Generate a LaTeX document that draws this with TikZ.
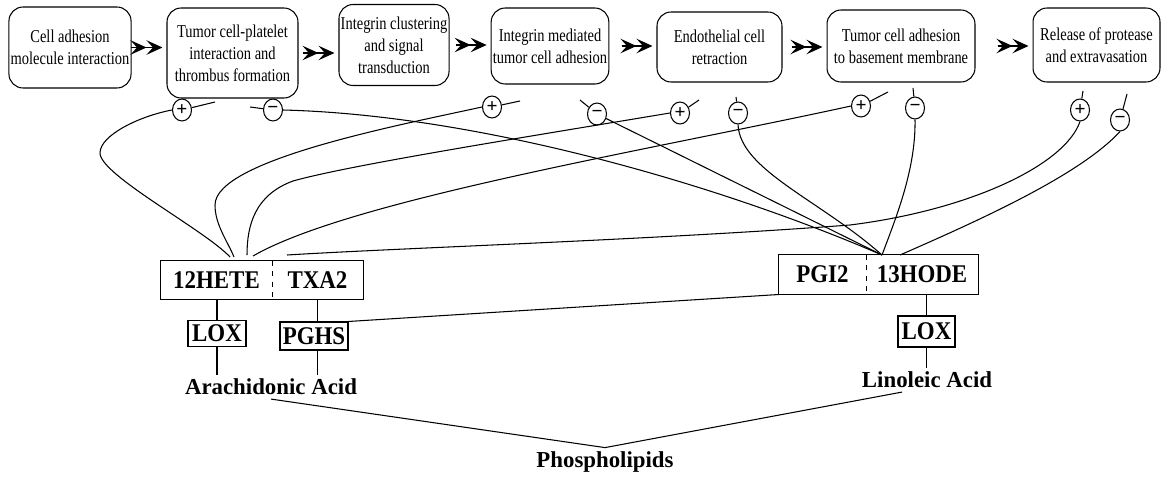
\documentclass[tikz,border=0pt]{standalone}
\usepackage{fontspec}
\setmainfont{Liberation Serif}
\newfontfamily\condfont[FakeStretch=0.8]{Liberation Serif}
\newfontfamily\labfont[FakeStretch=0.9]{Liberation Serif}
\usetikzlibrary{arrows.meta,shapes.geometric}

\tikzset{
  stage/.style={draw, rounded corners=8pt, align=center, inner sep=1pt,
    font=\condfont\fontsize{10.3}{12.5}\selectfont},
  sign/.style={draw, ellipse, minimum width=0.38cm, minimum height=0.44cm,
    inner sep=0pt, font=\bfseries\fontsize{11}{11}\selectfont},
  lab/.style={inner sep=0pt, font=\labfont\bfseries\fontsize{14.5}{16}\selectfont},
  enz/.style={draw, inner sep=1pt, font=\labfont\bfseries\fontsize{14.5}{16}\selectfont},
  acid/.style={inner sep=2pt, font=\bfseries\fontsize{13}{15}\selectfont},
  dbl/.style={-{Stealth[length=3.2mm,width=2.9mm,inset=1.3mm]Stealth[length=3.2mm,width=2.9mm,inset=1.3mm]}},
}

\begin{document}
\begin{tikzpicture}[x=0.02cm, y=-0.02cm, semithick]
    \useasboundingbox (0,0) rectangle (1162,483);
    % steps of extravasation
    \node[stage, minimum width=2.44cm, minimum height=1.62cm] (b1) at (70,47.5) {Cell adhesion\\molecule interaction};
    \node[stage, minimum width=2.62cm, minimum height=1.80cm] (b2) at (232.5,53) {Tumor cell-platelet\\interaction and\\thrombus formation};
    \node[stage, minimum width=2.16cm, minimum height=1.62cm] (b3) at (394,45) {Integrin clustering\\and signal\\transduction};
    \node[stage, minimum width=2.30cm, minimum height=1.52cm] (b4) at (550,46) {Integrin mediated\\tumor cell adhesion};
    \node[stage, minimum width=2.50cm, minimum height=1.40cm] (b5) at (719.5,47) {Endothelial cell\\retraction};
    \node[stage, minimum width=2.96cm, minimum height=1.44cm] (b6) at (901,46) {Tumor cell adhesion\\to basement membrane};
    \node[stage, minimum width=2.54cm, minimum height=1.48cm] (b7) at (1096.5,45) {Release of protease\\and extravasation};
    \foreach \a/\b in {b1/b2,b2/b3,b3/b4,b4/b5,b5/b6,b6/b7}
        \draw[dbl, shorten >=0.8mm] ([xshift=-7mm]\b.west |- \a.east) -- (\b.west |- \a.east);

    % signs
    \node[sign] (p2) at (182,110) {+};
    \node[sign] (m2) at (273,110) {−};
    \node[sign] (p4) at (492,107) {+};
    \node[sign] (m4) at (597,114) {−};
    \node[sign] (p5) at (680,113) {+};
    \node[sign] (m5) at (738,113) {−};
    \node[sign] (p6) at (861,106) {+};
    \node[sign] (m6) at (915,108) {−};
    \node[sign] (p7) at (1080,110) {+};
    \node[sign] (m7) at (1120,120) {−};
    \coordinate (tp2) at (215,102);
    \coordinate (tm2) at (250,107);
    \coordinate (tp4) at (520,101);
    \coordinate (tm4) at (580,100);
    \coordinate (tp5) at (699,100);
    \coordinate (tm5) at (736,97);
    \coordinate (tp6) at (888,92);
    \coordinate (tm6) at (913,88);
    \coordinate (tp7) at (1083,91);
    \coordinate (tm7) at (1127,94);
    \foreach \s in {p2,m2,p4,m4,p5,m5,p6,m6,p7,m7}
        \draw (\s) -- (t\s);

    % metabolites
    \node[lab, minimum width=2.22cm, minimum height=0.76cm] (hete) at (216.5,280) {12HETE};
    \node[lab, minimum width=1.82cm, minimum height=0.76cm] (txa) at (317.5,280) {TXA2};
    \draw (hete.north west) rectangle (txa.south east);
    \draw[dashed] (hete.north east) -- (hete.south east);
    \node[lab, minimum width=1.74cm, minimum height=0.78cm] (pgi) at (822.5,274.5) {PGI2};
    \node[lab, minimum width=2.24cm, minimum height=0.78cm] (hode) at (922,274.5) {13HODE};
    \draw (pgi.north west) rectangle (hode.south east);
    \draw[dashed] (pgi.north east) -- (pgi.south east);

    \node[enz, minimum width=1.16cm, minimum height=0.52cm] (lox1) at (217,333.5) {LOX};
    \node[enz, minimum width=1.36cm, minimum height=0.56cm] (pghs) at (314,336) {PGHS};
    \node[enz, minimum width=1.14cm, minimum height=0.62cm] (lox2) at (926.5,331.5) {LOX};
    \node[acid] (arach) at (271,387) {Arachidonic Acid};
    \node[acid] (linol) at (927,380) {Linoleic Acid};
    \node[acid] (phos) at (605,462) {Phospholipids};

    \draw (lox1 |- hete.south) -- (lox1.north);
    \draw (lox1.south) -- (lox1.south |- arach.north);
    \draw (txa.south) -- (txa.south |- pghs.north);
    \draw (txa.south |- pghs.south) -- (txa.south |- arach.north);
    \draw (lox2 |- hode.south) -- (lox2.north);
    \draw (lox2.south) -- (lox2.south |- linol.north);
    \draw (pghs.north east) -- (pgi.south west);
    \draw (arach.south) -- (phos.north) -- ([xshift=-5mm]linol.south);

    % effects on the steps
    \coordinate (ha) at (230,257);
    \coordinate (hb) at (234,257);
    \coordinate (hc) at (247,255);
    \coordinate (hd) at (253,256);
    \coordinate (he) at (287,255);
    \coordinate (ka) at (882,255);
    \coordinate (kb) at (900,255);
    \draw (p2.west) .. controls (140,116) and (100,135) .. (100,153)
        .. controls (100,175) and (205,230) .. (ha);
    \draw (p4.west) .. controls (400,125) and (215,160) .. (215,205)
        .. controls (215,225) and (228,242) .. (hb);
    \draw (p5.west) .. controls (520,138) and (350,165) .. (293,181)
        .. controls (255,195) and (247,225) .. (hc);
    \draw (p6.west) .. controls (650,150) and (350,200) .. (hd);
    \draw (p7.south) .. controls (1065,165) and (970,210) .. (850,225)
        .. controls (650,240) and (400,248) .. (he);
    \draw (m2.east) .. controls (480,115) and (720,185) .. (ka);
    \draw (m4) -- (ka);
    \draw (m5.south) .. controls (740,170) and (820,200) .. (ka);
    \draw (m6.south) .. controls (916,170) and (895,220) .. (ka);
    \draw (m7.south) .. controls (1080,175) and (980,220) .. (kb);
\end{tikzpicture}
\end{document}
